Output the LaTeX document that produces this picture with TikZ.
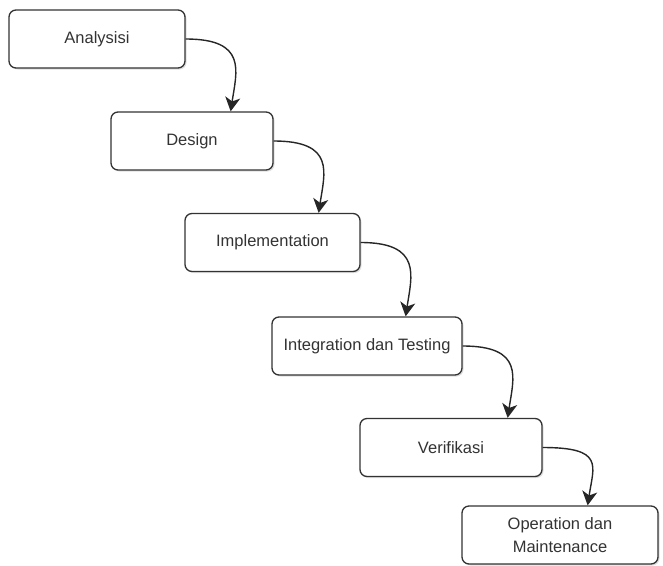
\documentclass[tikz,border=0pt]{standalone}
\usepackage{fontspec}
\setmainfont{Liberation Sans}
\usetikzlibrary{arrows.meta,shadows,calc}
\begin{document}
\begin{tikzpicture}[x=1pt,y=-1pt,
  box/.style={draw=black!80, line width=1.3pt, rounded corners=7pt, fill=white,
    minimum height=58pt, inner sep=2pt, align=center, text=black!80,
    font=\fontsize{16.5}{23}\selectfont,
    drop shadow={opacity=0.25, shadow xshift=1.5pt, shadow yshift=-1.5pt}},
  arr/.style={draw=black!85, line width=1.4pt, -{Stealth[length=14pt,width=15pt,inset=4pt]}}]
\useasboundingbox (0,0) rectangle (663,565);
\node[box, minimum width=176pt] (a) at (97,39) {Analysisi};
\node[box, minimum width=162pt] (b) at (192,141) {Design};
\node[box, minimum width=175pt] (c) at (272.5,242.5) {Implementation};
\node[box, minimum width=190pt] (d) at (367,346) {Integration dan Testing};
\node[box, minimum width=182pt] (e) at (451,447.5) {Verifikasi};
\node[box, minimum width=196pt] (f) at (560,535) {Operation dan\\Maintenance};
\coordinate (t1) at ([xshift=45pt]a.east |- b.north);
\coordinate (t2) at ([xshift=45pt]b.east |- c.north);
\coordinate (t3) at ([xshift=45pt]c.east |- d.north);
\coordinate (t4) at ([xshift=45pt]d.east |- e.north);
\coordinate (t5) at ([xshift=45pt]e.east |- f.north);
\draw[arr] (a.east) .. controls +(62,0) and +(6,-40) .. (t1);
\draw[arr] (b.east) .. controls +(62,0) and +(6,-40) .. (t2);
\draw[arr] (c.east) .. controls +(62,0) and +(6,-40) .. (t3);
\draw[arr] (d.east) .. controls +(62,0) and +(6,-40) .. (t4);
\draw[arr] (e.east) .. controls +(62,0) and +(6,-40) .. (t5);
\end{tikzpicture}
\end{document}
